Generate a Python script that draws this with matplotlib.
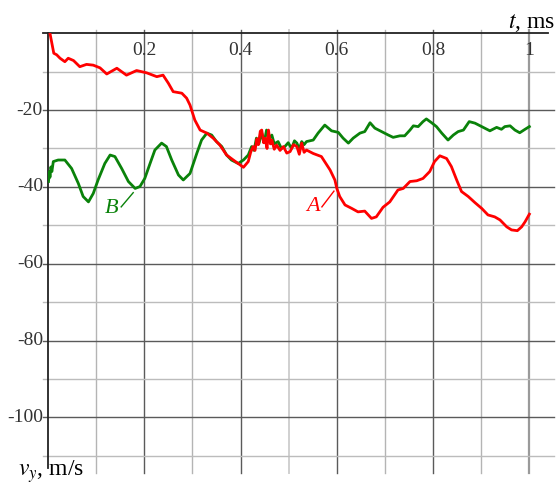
"""Velocity traces A and B, v_y (m/s) against t (ms), axis along the top."""

import matplotlib

matplotlib.use("Agg")
import matplotlib.pyplot as plt

plt.rcParams["font.family"] = ["Liberation Serif", "DejaVu Serif"]
plt.rcParams["mathtext.fontset"] = "stix"

# curve A (red)
a_t = [0.004, 0.012, 0.018, 0.025, 0.035, 0.042, 0.053, 0.066, 0.080, 0.094,
       0.108, 0.122, 0.143, 0.163, 0.184, 0.205, 0.226, 0.239, 0.250, 0.260,
       0.278, 0.288, 0.295, 0.305, 0.316, 0.330, 0.343, 0.357, 0.371, 0.385,
       0.406, 0.416, 0.421, 0.426, 0.430, 0.434, 0.437, 0.441, 0.444, 0.448,
       0.451, 0.455, 0.458, 0.462, 0.465, 0.470, 0.475, 0.482, 0.489, 0.496,
       0.503, 0.510, 0.517, 0.522, 0.527, 0.532, 0.537, 0.551, 0.568, 0.586,
       0.596, 0.600, 0.606, 0.617, 0.631, 0.644, 0.658, 0.672, 0.682, 0.696,
       0.710, 0.727, 0.738, 0.752, 0.766, 0.779, 0.793, 0.803, 0.814, 0.828,
       0.838, 0.849, 0.859, 0.873, 0.887, 0.901, 0.914, 0.928, 0.939, 0.953,
       0.963, 0.975, 0.984, 0.991, 1.000]
a_v = [0.0, -5.2, -5.6, -6.5, -7.4, -6.5, -7.1, -8.7, -8.1, -8.3,
       -9.0, -10.6, -9.1, -10.9, -9.7, -10.3, -11.3, -10.9, -13.0, -15.2,
       -15.6, -16.9, -18.7, -22.6, -25.2, -26.0, -27.3, -29.1, -31.7, -33.0,
       -34.9, -33.4, -31.0, -29.5, -30.5, -27.5, -29.0, -25.5, -25.2, -28.5,
       -27.3, -30.0, -25.2, -28.8, -27.8, -30.2, -29.1, -30.5, -29.5, -31.2,
       -30.8, -29.0, -29.5, -31.5, -28.6, -31.0, -30.4, -31.3, -32.1, -35.6,
       -38.2, -40.4, -42.5, -44.7, -45.6, -46.5, -46.3, -48.2, -47.8, -45.3,
       -43.9, -40.8, -40.4, -38.6, -38.4, -37.8, -36.0, -33.4, -31.9, -32.6,
       -34.7, -38.2, -41.2, -42.5, -44.1, -45.6, -47.3, -47.8, -48.6, -50.4,
       -51.2, -51.4, -50.4, -49.1, -47.1]

# curve B (green)
b_t = [0.001, 0.003, 0.004, 0.006, 0.008, 0.011, 0.021, 0.035, 0.049, 0.063,
       0.073, 0.084, 0.094, 0.104, 0.118, 0.129, 0.139, 0.153, 0.167, 0.181,
       0.191, 0.201, 0.212, 0.222, 0.236, 0.246, 0.257, 0.271, 0.281, 0.295,
       0.309, 0.319, 0.330, 0.340, 0.350, 0.361, 0.371, 0.381, 0.395, 0.406,
       0.416, 0.423, 0.428, 0.433, 0.438, 0.444, 0.449, 0.454, 0.459, 0.465,
       0.470, 0.478, 0.485, 0.492, 0.499, 0.506, 0.512, 0.517, 0.522, 0.527,
       0.532, 0.537, 0.551, 0.561, 0.575, 0.589, 0.603, 0.613, 0.624, 0.634,
       0.648, 0.658, 0.669, 0.679, 0.693, 0.707, 0.717, 0.731, 0.741, 0.752,
       0.759, 0.769, 0.779, 0.786, 0.797, 0.807, 0.818, 0.831, 0.842, 0.852,
       0.863, 0.875, 0.887, 0.901, 0.918, 0.932, 0.942, 0.949, 0.960, 0.970,
       0.980, 0.991, 1.000]
b_v = [-38.6, -36.0, -37.5, -34.8, -36.0, -33.4, -33.0, -33.0, -35.2, -39.1,
       -42.5, -43.9, -41.7, -38.2, -33.9, -31.7, -32.1, -35.2, -38.6, -40.4,
       -39.9, -37.8, -33.9, -30.4, -28.6, -29.5, -33.0, -36.9, -38.2, -36.5,
       -31.3, -27.8, -26.0, -26.5, -28.2, -29.5, -31.7, -33.0, -33.9, -33.0,
       -31.7, -29.5, -30.5, -27.3, -28.8, -26.0, -28.5, -25.2, -27.5, -26.5,
       -28.8, -28.2, -30.0, -29.5, -28.5, -30.0, -28.0, -28.6, -30.2, -28.2,
       -29.0, -28.2, -27.8, -26.0, -23.9, -25.4, -25.8, -27.3, -28.6, -27.3,
       -26.0, -25.6, -23.3, -24.7, -25.6, -26.5, -27.1, -26.7, -26.7, -25.2,
       -24.1, -24.3, -23.0, -22.3, -23.3, -24.3, -26.0, -27.8, -26.5, -25.6,
       -25.2, -23.0, -23.4, -24.3, -25.4, -24.5, -25.0, -24.3, -24.1, -25.2,
       -25.9, -25.0, -24.3]

x_ticks = [0.2, 0.4, 0.6, 0.8, 1.0]
x_labels = ["0.2", "0.4", "0.6", "0.8", "1"]
y_ticks = [-20, -40, -60, -80, -100]
y_labels = ["-20", "-40", "-60", "-80", "-100"]

RED = "#ff0000"
GREEN = "#0a820a"
FS = 14

fig = plt.figure(figsize=(5.59, 4.88), dpi=100)
ax = fig.add_axes([0.0859, 0.0307, 0.905, 0.9011])
ax.set_xlim(0, 1.051)
ax.set_ylim(-114.5, 0)
ax.axis("off")

# grid: darker lines on the labelled values, lighter in between
for i in range(1, 11):
    x = i / 10
    major = i % 2 == 0
    col = "#5a5a5a" if major else "#b4b4b4"
    lw = 1.0
    if i == 10:
        col, lw = "#9a9a9a", 1.6
    if i == 5:
        col, lw = "#d0d0d0", 1.4
    ax.plot([x, x], [0.8, -114.5], color=col, lw=lw, zorder=1, clip_on=False)
for i in range(1, 12):
    y = -10 * i
    major = i % 2 == 0
    col = "#5a5a5a" if major else "#bcbcbc"
    ax.plot([-0.011, 1.051], [y, y], color=col, lw=1.0, zorder=1, clip_on=False)

# axes lines
ax.plot([-0.011, 1.038], [0, 0], color="#222222", lw=1.3, zorder=2, clip_on=False)
ax.plot([0, 0], [0, -113.2], color="#222222", lw=1.3, zorder=2, clip_on=False)

for x, lab in zip(x_ticks, x_labels):
    ax.text(x, -4.4, lab, ha="center", va="center", fontsize=FS, color="#333333")
for y, lab in zip(y_ticks, y_labels):
    ax.text(-0.0105, y, lab, ha="right", va="center", fontsize=FS, color="#333333")

ax.text(1.054, 1.4, r"$t$, ms", ha="right", va="baseline", fontsize=FS + 3,
        clip_on=False)
ax.text(-0.063, -115.3, r"$v_y$, m/s", ha="left", va="baseline", fontsize=FS + 3,
        clip_on=False)

ax.plot(a_t, a_v, color=RED, lw=2.0, zorder=4, solid_joinstyle="round")
ax.plot(b_t, b_v, color=GREEN, lw=2.0, zorder=3, solid_joinstyle="round")

# curve labels with short leaders
ax.text(0.133, -45.5, "B", color=GREEN, fontsize=FS + 2, style="italic",
        ha="center", va="center")
ax.plot([0.152, 0.177], [-45.2, -41.5], color=GREEN, lw=1.0)
ax.text(0.550, -45.0, "A", color=RED, fontsize=FS + 2, style="italic",
        ha="center", va="center")
ax.plot([0.569, 0.594], [-45.2, -41.1], color=RED, lw=1.0)

fig.savefig("out.png", dpi=100)
